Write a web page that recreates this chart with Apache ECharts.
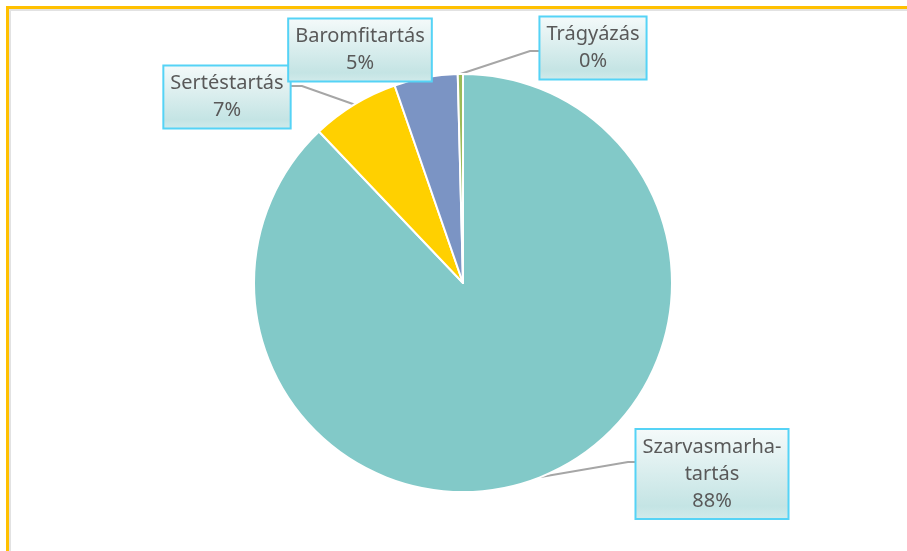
<!DOCTYPE html>
<html>
<head>
<meta charset="utf-8">
<script src="https://cdn.jsdelivr.net/npm/echarts@6/dist/echarts.min.js"></script>
<style>
    html, body { margin: 0; padding: 0; background: #fff; }
    #chart { width: 907px; height: 551px; }
</style>
</head>
<body>
<div id="chart"></div>
<script>
// adatok
var categories = ['Szarvasmarha-tartás', 'Sertéstartás', 'Baromfitartás', 'Trágyázás'];
var values = [87.9, 6.8, 4.9, 0.4];
var colors = ['#82C9C8', '#FFD000', '#7B94C4', '#9BBB59'];

// label box centres and leader line bends (layout only)
var labelPos = [[712, 474], [227, 97], [360, 50], [593, 48]];
var lineBend = [[628, 462, 637], [302, 86, 290], null, [530, 51, 540]];

var chart = echarts.init(document.getElementById('chart'));

var pieData = [];
for (var i = 0; i < categories.length; i++) {
    var item = { name: categories[i], value: values[i], itemStyle: { color: colors[i] } };
    if (i === 2) {
        item.labelLine = { show: false };
    }
    pieData.push(item);
}

var option = {
    backgroundColor: '#fff',
    animation: false,
    graphic: [
        { type: 'rect', shape: { x: 9, y: 9, width: 898, height: 2 }, style: { fill: '#E2E2E2' }, silent: true },
        { type: 'rect', shape: { x: 9, y: 9, width: 2, height: 542 }, style: { fill: '#E2E2E2' }, silent: true },
        { type: 'rect', shape: { x: 6, y: 6, width: 901, height: 3 }, style: { fill: '#FFC000' }, silent: true },
        { type: 'rect', shape: { x: 6, y: 6, width: 3, height: 545 }, style: { fill: '#FFC000' }, silent: true }
    ],
    series: [
        {
            type: 'pie',
            center: [463, 283],
            radius: 209,
            startAngle: 90,
            clockwise: true,
            avoidLabelOverlap: false,
            itemStyle: {
                borderColor: '#fff',
                borderWidth: 2
            },
            label: {
                show: true,
                formatter: function (p) {
                    return p.name.replace('-', '-\n') + '\n' + Math.round(p.percent) + '%';
                },
                color: '#595959',
                fontFamily: 'Noto Sans',
                fontSize: 20,
                lineHeight: 27,
                align: 'center',
                padding: [7, 6, 0, 6],
                borderColor: '#55D3F6',
                borderWidth: 2,
                backgroundColor: new echarts.graphic.LinearGradient(0, 0, 0, 1, [
                    { offset: 0, color: '#F5FAFA' },
                    { offset: 0.85, color: '#C4E4E4' },
                    { offset: 1, color: '#D2EBEB' }
                ])
            },
            labelLine: {
                show: true,
                lineStyle: { color: '#A6A6A6', width: 2 }
            },
            labelLayout: function (params) {
                var pos = labelPos[params.dataIndex];
                var res = {
                    x: pos[0],
                    y: pos[1],
                    align: 'center',
                    verticalAlign: 'middle'
                };
                var b = lineBend[params.dataIndex];
                if (b && params.labelLinePoints) {
                    var start = params.labelLinePoints[0];
                    res.labelLinePoints = [[start[0], start[1]], [b[0], b[1]], [b[2], b[1]]];
                }
                return res;
            },
            emphasis: { disabled: true },
            data: pieData
        }
    ]
};

chart.setOption(option);
</script>
</body>
</html>
